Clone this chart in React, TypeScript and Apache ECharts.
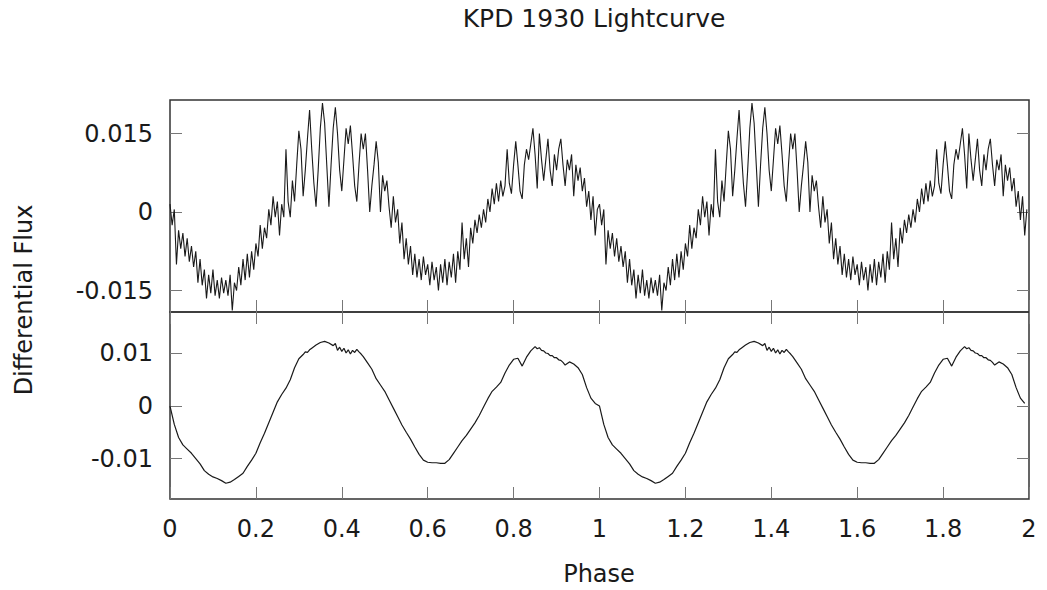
import React, { useEffect, useRef } from "react";
import * as echarts from "echarts";

const TITLE = "KPD 1930 Lightcurve";
const X_NAME = "Phase";
const Y_NAME = "Differential Flux";
const FONT = "DejaVu Sans";

const PHASE_MIN = 0;
const PHASE_MAX = 2;
const PHASE_INTERVAL = 0.2;
const CYCLES = [0, 1];

const TOP_Y_TICKS = [-0.015, 0, 0.015];
const BOTTOM_Y_TICKS = [-0.01, 0, 0.01];
const TOP_Y_RANGE = [-0.0191, 0.0214];
const BOTTOM_Y_RANGE = [-0.0177, 0.0179];

// raw light curve, one cycle, phase step 0.005, in units of 1e-3
const TOP_STEP = 0.005;
const topFluxMilli = [
  1.5, -2.5, 0.5, -10.0, -3.5, -7.0, -4.0, -8.5, -5.0, -9.5,
  -6.5, -10.5, -7.5, -13.5, -9.0, -14.0, -11.0, -16.5, -12.0, -15.5,
  -11.0, -16.0, -13.0, -16.5, -12.5, -15.5, -13.0, -16.0, -12.0, -18.8,
  -13.5, -15.0, -10.5, -14.0, -9.0, -13.0, -8.0, -12.5, -7.5, -11.0,
  -6.0, -8.5, -2.5, -7.0, -3.0, -5.0, 0.5, -2.5, 3.0, -1.0,
  2.0, -4.5, 1.5, -1.0, 12.0, 2.0, -1.0, 6.0, 2.0, 9.0,
  15.5, 12.0, 3.0, 8.0, 14.0, 19.5, 12.0, 5.5, 1.0, 8.0,
  16.0, 20.8, 17.0, 9.0, 1.0, 9.0, 16.0, 20.0, 15.0, 8.0,
  4.0, 10.0, 16.0, 13.0, 16.5, 11.0, 5.0, 2.0, 9.0, 15.0,
  12.0, 15.0, 8.0, 0.0, 5.0, 9.0, 13.5, 9.5, 0.0, 7.0,
  4.0, 6.0, 1.0, -3.0, 3.0, -2.0, 0.5, -6.0, -2.0, -9.0,
  -5.0, -10.0, -6.5, -12.0, -8.0, -12.5, -9.0, -13.0, -8.5, -12.0,
  -10.0, -14.0, -9.5, -13.0, -10.5, -15.0, -10.0, -13.5, -9.0, -14.0,
  -9.5, -12.5, -8.0, -13.5, -7.5, -11.0, -2.0, -9.0, -5.0, -10.5,
  -3.0, -6.0, -1.5, -4.0, -0.5, -3.0, 0.5, -2.0, 2.5, 0.0,
  4.5, 1.5, 5.5, 2.0, 6.0, 3.0, 5.0, 12.0, 5.5, 3.5,
  9.0, 13.5, 9.0, 4.0, 2.5, 9.0, 12.0, 10.0, 13.0, 16.0,
  11.0, 4.5, 15.0, 10.0, 6.0, 10.0, 14.0, 8.0, 5.0, 11.0,
  8.0, 12.0, 14.0, 9.0, 5.0, 10.0, 8.0, 11.0, 3.0, 9.0,
  6.0, 8.5, 4.0, 6.5, 1.0, 4.0, -1.5, 3.0, -4.5, 0.5,
];

// smoothed light curve, one cycle: [phase, flux in 1e-3]
const bottomCurve: [number, number][] = [
  [0.0, 0.0], [0.01, -3.5], [0.02, -6.0], [0.03, -7.4], [0.04, -8.2],
  [0.05, -9.0], [0.06, -10.0], [0.07, -11.0], [0.08, -12.3], [0.09, -13.0],
  [0.1, -13.5], [0.11, -13.8], [0.12, -14.2], [0.13, -14.7], [0.14, -14.5],
  [0.15, -14.0], [0.16, -13.4], [0.17, -12.8], [0.18, -11.5], [0.19, -10.3],
  [0.2, -9.0], [0.21, -7.0], [0.22, -5.2], [0.23, -3.2], [0.24, -1.2],
  [0.25, 0.8], [0.26, 2.2], [0.27, 3.4], [0.28, 5.0], [0.29, 7.3],
  [0.3, 9.0], [0.31, 9.8], [0.315, 10.3], [0.32, 10.2], [0.325, 10.7],
  [0.33, 11.0], [0.34, 11.6], [0.35, 12.1], [0.36, 12.3], [0.37, 12.0],
  [0.38, 11.5], [0.385, 11.9], [0.39, 10.6], [0.395, 11.2], [0.4, 10.4],
  [0.405, 11.0], [0.41, 10.1], [0.415, 10.7], [0.42, 9.9], [0.425, 10.6],
  [0.43, 10.2], [0.435, 10.8], [0.44, 10.3], [0.445, 9.9], [0.45, 9.4],
  [0.46, 8.2], [0.47, 7.0], [0.48, 5.2], [0.49, 4.0], [0.5, 2.8],
  [0.51, 1.2], [0.52, -0.4], [0.53, -2.0], [0.54, -3.6], [0.55, -5.0],
  [0.56, -6.3], [0.57, -7.8], [0.58, -9.2], [0.59, -10.3], [0.6, -10.7],
  [0.61, -10.8], [0.62, -10.8], [0.63, -10.9], [0.64, -10.9], [0.65, -10.2],
  [0.66, -9.0], [0.67, -7.8], [0.68, -6.6], [0.69, -5.6], [0.7, -4.4],
  [0.71, -3.2], [0.72, -1.8], [0.73, -0.2], [0.74, 1.4], [0.75, 2.8],
  [0.76, 3.6], [0.77, 4.5], [0.78, 6.3], [0.79, 7.8], [0.8, 8.9],
  [0.81, 9.1], [0.82, 7.6], [0.83, 9.3], [0.84, 10.5], [0.85, 11.3],
  [0.855, 10.9], [0.86, 11.1], [0.865, 10.6], [0.87, 10.5], [0.875, 10.1],
  [0.88, 10.0], [0.885, 9.6], [0.89, 9.6], [0.895, 9.2], [0.9, 9.2],
  [0.905, 8.8], [0.91, 8.7], [0.915, 8.3], [0.92, 7.8], [0.93, 8.4],
  [0.94, 8.0], [0.95, 7.3], [0.96, 6.0], [0.97, 3.5], [0.98, 1.5],
  [0.99, 0.5],
];

const TEXT_COLOR = "#1a1a1a";
const LINE_COLOR = "#1a1a1a";
const TICK_COLOR = "#777777";
const FRAME_COLOR = "#333333";

function buildTop(): [number, number][] {
  const out: [number, number][] = [];
  CYCLES.forEach((c) => {
    topFluxMilli.forEach((v, i) => {
      out.push([c + i * TOP_STEP, v / 1000]);
    });
  });
  return out;
}

function buildBottom(): [number, number][] {
  const out: [number, number][] = [];
  CYCLES.forEach((c) => {
    bottomCurve.forEach(([p, v]) => {
      out.push([c + p, v / 1000]);
    });
  });
  return out;
}

const tickStyle = { lineStyle: { color: TICK_COLOR, width: 1 } };

function xAxis(gridIndex: number, position: "top" | "bottom", labels: boolean) {
  return {
    type: "value",
    gridIndex,
    position,
    min: PHASE_MIN,
    max: PHASE_MAX,
    interval: PHASE_INTERVAL,
    axisLine: { show: false, onZero: false },
    axisTick: { show: true, inside: true, length: 12, ...tickStyle },
    splitLine: { show: false },
    axisLabel: {
      show: labels,
      margin: 18,
      fontSize: 24,
      fontFamily: FONT,
      color: TEXT_COLOR,
      showMinLabel: true,
      showMaxLabel: true,
      hideOverlap: false,
    },
  };
}

function yAxis(
  gridIndex: number,
  position: "left" | "right",
  labels: boolean,
  range: number[],
  ticks: number[]
) {
  return {
    type: "value",
    gridIndex,
    position,
    min: range[0],
    max: range[1],
    axisLine: { show: false, onZero: false },
    axisTick: { show: true, inside: true, length: 12, customValues: ticks, ...tickStyle },
    splitLine: { show: false },
    axisLabel: {
      show: labels,
      customValues: ticks,
      margin: 17,
      fontSize: 24,
      fontFamily: FONT,
      color: TEXT_COLOR,
      formatter: (v: number) => String(Math.round(v * 1000) / 1000),
    },
  };
}

export default function App() {
  const ref = useRef<HTMLDivElement>(null);

  useEffect(() => {
    if (!ref.current) return;
    const chart = echarts.init(ref.current, null, { renderer: "svg" });
    chart.setOption({
      animation: false,
      backgroundColor: "#ffffff",
      grid: [
        {
          left: 170,
          top: 100,
          width: 859,
          height: 212,
          show: true,
          borderColor: FRAME_COLOR,
          borderWidth: 1.5,
          backgroundColor: "transparent",
        },
        {
          left: 170,
          top: 312,
          width: 859,
          height: 187,
          show: true,
          borderColor: FRAME_COLOR,
          borderWidth: 1.5,
          backgroundColor: "transparent",
        },
      ],
      xAxis: [xAxis(0, "bottom", false), xAxis(1, "bottom", true), xAxis(1, "top", false)],
      yAxis: [
        yAxis(0, "left", true, TOP_Y_RANGE, TOP_Y_TICKS),
        yAxis(0, "right", false, TOP_Y_RANGE, TOP_Y_TICKS),
        yAxis(1, "left", true, BOTTOM_Y_RANGE, BOTTOM_Y_TICKS),
        yAxis(1, "right", false, BOTTOM_Y_RANGE, BOTTOM_Y_TICKS),
      ],
      series: [
        {
          type: "line",
          xAxisIndex: 0,
          yAxisIndex: 0,
          data: buildTop(),
          showSymbol: false,
          symbol: "none",
          lineStyle: { color: LINE_COLOR, width: 1.1 },
          clip: true,
        },
        {
          type: "line",
          xAxisIndex: 1,
          yAxisIndex: 2,
          data: buildBottom(),
          showSymbol: false,
          symbol: "none",
          lineStyle: { color: LINE_COLOR, width: 1.2 },
          clip: true,
        },
      ],
      graphic: [
        {
          type: "text",
          x: 594,
          y: 18,
          style: {
            text: TITLE,
            font: `25px "${FONT}"`,
            fill: TEXT_COLOR,
            textAlign: "center",
            textVerticalAlign: "middle",
          },
        },
        {
          type: "text",
          x: 599,
          y: 574,
          style: {
            text: X_NAME,
            font: `24px "${FONT}"`,
            fill: TEXT_COLOR,
            textAlign: "center",
            textVerticalAlign: "middle",
          },
        },
        {
          type: "text",
          x: 24,
          y: 300,
          rotation: Math.PI / 2,
          style: {
            text: Y_NAME,
            font: `24px "${FONT}"`,
            fill: TEXT_COLOR,
            textAlign: "center",
            textVerticalAlign: "middle",
          },
        },
      ],
    });
    return () => chart.dispose();
  }, []);

  return (
    <div
      ref={ref}
      style={{ position: "fixed", left: 0, top: 0, width: 1047, height: 590 }}
    />
  );
}
